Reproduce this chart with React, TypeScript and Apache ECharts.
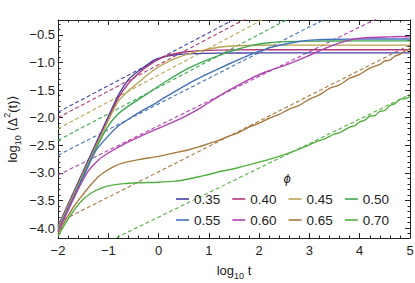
import React, { useEffect, useRef } from 'react';
import * as echarts from 'echarts';

const phiLabels = ['0.35', '0.40', '0.45', '0.50', '0.55', '0.60', '0.65', '0.70'];
const lineColors = ['#4343a8', '#b03a78', '#b8a452', '#3fa852', '#4472b8', '#b043b0', '#a87a40', '#55b043'];

const msd035 = [[-2, -3.97], [-1.5, -2.97], [-1.0, -1.98], [-0.8, -1.59], [-0.6, -1.31], [-0.45, -1.19], [-0.3, -1.09], [-0.1, -0.96], [0.1, -0.9], [0.3, -0.865], [0.7, -0.84], [1.2, -0.83], [2, -0.825], [3, -0.825], [4, -0.825], [5, -0.825]];
const msd040 = [[-2, -3.98], [-1.5, -3.0], [-1.0, -2.02], [-0.8, -1.64], [-0.6, -1.38], [-0.4, -1.2], [-0.24, -1.08], [0.09, -0.9], [0.3, -0.845], [0.56, -0.805], [1, -0.78], [1.5, -0.772], [2.5, -0.768], [5, -0.768]];
const msd045 = [[-2, -4.0], [-1.5, -3.02], [-1.0, -2.05], [-0.8, -1.7], [-0.6, -1.51], [-0.44, -1.39], [-0.1, -1.14], [0.2, -0.98], [0.5, -0.87], [0.89, -0.775], [1.2, -0.725], [1.55, -0.697], [2, -0.688], [3, -0.685], [5, -0.685]];
const msd050 = [[-2, -4.03], [-1.5, -3.05], [-1.2, -2.48], [-1.0, -2.15], [-0.8, -1.93], [-0.6, -1.79], [-0.45, -1.7], [-0.1, -1.49], [0.15, -1.34], [0.56, -1.12], [0.9, -0.98], [1.22, -0.865], [1.55, -0.765], [1.88, -0.685], [2.2, -0.643], [2.55, -0.622], [3, -0.612], [4, -0.608], [5, -0.608]];
const msd055 = [[-2, -4.05], [-1.5, -3.08], [-1.25, -2.6], [-1.0, -2.33], [-0.8, -2.15], [-0.57, -2.01], [-0.3, -1.86], [-0.1, -1.76], [0.15, -1.62], [0.56, -1.4], [0.9, -1.24], [1.22, -1.1], [1.55, -0.965], [1.88, -0.84], [2.2, -0.735], [2.55, -0.66], [2.8, -0.62], [3.1, -0.59], [3.5, -0.578], [4.2, -0.575], [5, -0.575]];
const msd060 = [[-2, -4.07], [-1.6, -3.3], [-1.4, -2.97], [-1.2, -2.77], [-1.0, -2.64], [-0.65, -2.46], [-0.3, -2.31], [-0.05, -2.21], [0.43, -2.02], [0.82, -1.83], [1.22, -1.6], [1.55, -1.43], [1.88, -1.27], [2.2, -1.15], [2.55, -1.04], [3.0, -0.87], [3.3, -0.75], [3.6, -0.645], [3.9, -0.575], [4.2, -0.548], [4.6, -0.536], [4.8, -0.53], [5, -0.535]];
const msd065 = [[-2, -4.1], [-1.86, -3.87], [-1.7, -3.63], [-1.53, -3.42], [-1.35, -3.22], [-1.2, -3.07], [-1.05, -2.97], [-0.9, -2.89], [-0.7, -2.82], [-0.4, -2.76], [0, -2.7], [0.33, -2.635], [0.6, -2.58], [0.82, -2.525], [1.0, -2.47], [1.2, -2.41], [1.4, -2.335], [1.6, -2.265], [1.8, -2.17], [2.0, -2.1], [2.2, -2.01], [2.4, -1.94], [2.6, -1.845], [2.8, -1.775], [3.0, -1.665], [3.2, -1.585], [3.4, -1.47], [3.6, -1.405], [3.8, -1.285], [4.0, -1.215], [4.2, -1.1], [4.4, -1.035], [4.5, -0.97], [4.6, -0.955], [4.7, -0.885], [4.8, -0.855], [4.9, -0.79], [5, -0.75]];
const msd070 = [[-2, -4.15], [-1.83, -3.88], [-1.66, -3.65], [-1.5, -3.48], [-1.33, -3.36], [-1.15, -3.28], [-1.0, -3.235], [-0.7, -3.195], [-0.4, -3.18], [0, -3.17], [0.33, -3.15], [0.6, -3.11], [0.82, -3.065], [1.0, -3.03], [1.2, -2.98], [1.5, -2.925], [1.8, -2.855], [2.15, -2.77], [2.5, -2.67], [2.81, -2.565], [3.14, -2.435], [3.3, -2.385], [3.5, -2.295], [3.6, -2.275], [3.8, -2.17], [3.9, -2.15], [4.0, -2.075], [4.1, -2.045], [4.2, -1.97], [4.3, -1.965], [4.4, -1.885], [4.5, -1.87], [4.6, -1.78], [4.7, -1.745], [4.8, -1.665], [4.9, -1.66], [5, -1.62]];

const msdCurves = [msd035, msd040, msd045, msd050, msd055, msd060, msd065, msd070];

// dashed guide lines: value at log10 t = -2 and at log10 t = 5
const dashStartY = [-1.9, -2.0, -2.2, -2.41, -2.68, -3.04, -3.9, -4.69];
const dashEndY = [1.46, 1.36, 1.2, 0.95, 0.575, 0.09, -0.68, -1.58];
const dashX = [-2, 5];

const yMajorTicks = [-4, -3.5, -3, -2.5, -2, -1.5, -1, -0.5];
const yMinorTicks = [-4.1, -3.9, -3.8, -3.7, -3.6, -3.4, -3.3, -3.2, -3.1, -2.9, -2.8, -2.7, -2.6, -2.4, -2.3, -2.2, -2.1, -1.9, -1.8, -1.7, -1.6, -1.4, -1.3, -1.2, -1.1, -0.9, -0.8, -0.7, -0.6, -0.4, -0.3];

const FONT = '"Liberation Sans", Arial, "DejaVu Sans", sans-serif';
const INK = '#222';

const fmt = (v: number, d: number) => (v < 0 ? '\u2212' + Math.abs(v).toFixed(d) : v.toFixed(d));

export default function App() {
  const ref = useRef<HTMLDivElement>(null);
  useEffect(() => {
    if (!ref.current) return;
    const chart = echarts.init(ref.current, undefined, { renderer: 'svg' });
    const axisLine = { show: true, onZero: false, lineStyle: { color: INK, width: 1 } };
    const noLine = { show: false, onZero: false };
    const tickStyle = { color: INK, width: 1 };
    const yMin = -4.18;
    const yMax = -0.23;

    const xBase = {
      type: 'value', min: -2, max: 5, interval: 1,
      axisLine, splitLine: { show: false },
      axisTick: { show: true, inside: true, length: 5, lineStyle: tickStyle },
      minorTick: { show: true, splitNumber: 5, length: 2.5, lineStyle: tickStyle },
    };
    const yBase = { type: 'value', min: yMin, max: yMax, splitLine: { show: false } };

    const series: any[] = [];
    for (let i = 0; i < phiLabels.length; i++) {
      series.push({
        name: 'guide ' + phiLabels[i], type: 'line', silent: true,
        data: [[dashX[0], dashStartY[i]], [dashX[1], dashEndY[i]]],
        symbol: 'none', showSymbol: false, z: 2,
        lineStyle: { color: lineColors[i], width: 1.1, type: [4, 2.5] },
      });
    }
    for (let i = 0; i < phiLabels.length; i++) {
      series.push({
        name: phiLabels[i], type: 'line', silent: true,
        data: msdCurves[i], symbol: 'none', showSymbol: false,
        smooth: 0.2, z: 3,
        itemStyle: { color: lineColors[i] },
        lineStyle: { color: lineColors[i], width: 1.4 },
      });
    }

    const legendBase = {
      orient: 'horizontal', left: 176, icon: 'rect', itemWidth: 13, itemHeight: 1.6, itemGap: 12,
      padding: 0, selectedMode: false,
      textStyle: { fontFamily: FONT, fontSize: 13.5, color: INK },
    };

    chart.setOption({
      animation: false,
      backgroundColor: '#fff',
      grid: { left: 58, right: 5, top: 20, bottom: 45, containLabel: false, outerBoundsMode: 'none' },
      xAxis: [
        {
          ...xBase, position: 'bottom',
          axisLabel: { margin: 6, fontFamily: FONT, fontSize: 13, color: INK, formatter: (v: number) => fmt(v, 0) },
        },
        { ...xBase, position: 'top', axisLabel: { show: false } },
      ],
      yAxis: [
        {
          ...yBase, position: 'left', axisLine,
          axisTick: { show: true, inside: true, length: 5, customValues: yMajorTicks, lineStyle: tickStyle },
          axisLabel: { customValues: yMajorTicks, margin: 3, fontFamily: FONT, fontSize: 13, color: INK, formatter: (v: number) => fmt(v, 1) },
        },
        {
          ...yBase, position: 'left', axisLine: noLine,
          axisTick: { show: true, inside: true, length: 2.5, customValues: yMinorTicks, lineStyle: tickStyle },
          axisLabel: { show: false },
        },
        {
          ...yBase, position: 'right', axisLine,
          axisTick: { show: true, inside: true, length: 5, customValues: yMajorTicks, lineStyle: tickStyle },
          axisLabel: { show: false },
        },
        {
          ...yBase, position: 'right', axisLine: noLine,
          axisTick: { show: true, inside: true, length: 2.5, customValues: yMinorTicks, lineStyle: tickStyle },
          axisLabel: { show: false },
        },
      ],
      legend: [
        { ...legendBase, top: 192, data: phiLabels.slice(0, 4) },
        { ...legendBase, top: 213, data: phiLabels.slice(4, 8) },
      ],
      graphic: [
        {
          type: 'text', x: 287, y: 178,
          style: { text: '\u03d5', fontFamily: FONT, fontStyle: 'italic', fontSize: 13, fill: INK, align: 'center', verticalAlign: 'middle' },
        },
        {
          type: 'text', x: 234, y: 270,
          style: {
            text: '{m|log}{s|10}{m| t}', align: 'center', verticalAlign: 'middle', fill: INK,
            rich: {
              m: { fontFamily: FONT, fontSize: 13, lineHeight: 20, verticalAlign: 'middle', fill: INK },
              s: { fontFamily: FONT, fontSize: 9, lineHeight: 12, verticalAlign: 'bottom', fill: INK },
            },
          },
        },
        {
          type: 'text', x: 12, y: 129, rotation: Math.PI / 2,
          style: {
            text: '{m|log}{s|10}{m| \u27e8\u0394}{p|2}{m|(t)\u27e9}', align: 'center', verticalAlign: 'middle', fill: INK,
            rich: {
              m: { fontFamily: FONT, fontSize: 13, lineHeight: 20, verticalAlign: 'middle', fill: INK },
              s: { fontFamily: FONT, fontSize: 9, lineHeight: 12, verticalAlign: 'bottom', fill: INK },
              p: { fontFamily: FONT, fontSize: 9, lineHeight: 10, verticalAlign: 'top', fill: INK },
            },
          },
        },
      ],
      series,
    });
    return () => chart.dispose();
  }, []);
  return <div ref={ref} style={{ position: 'fixed', left: 0, top: 0, width: 415, height: 283 }} />;
}
